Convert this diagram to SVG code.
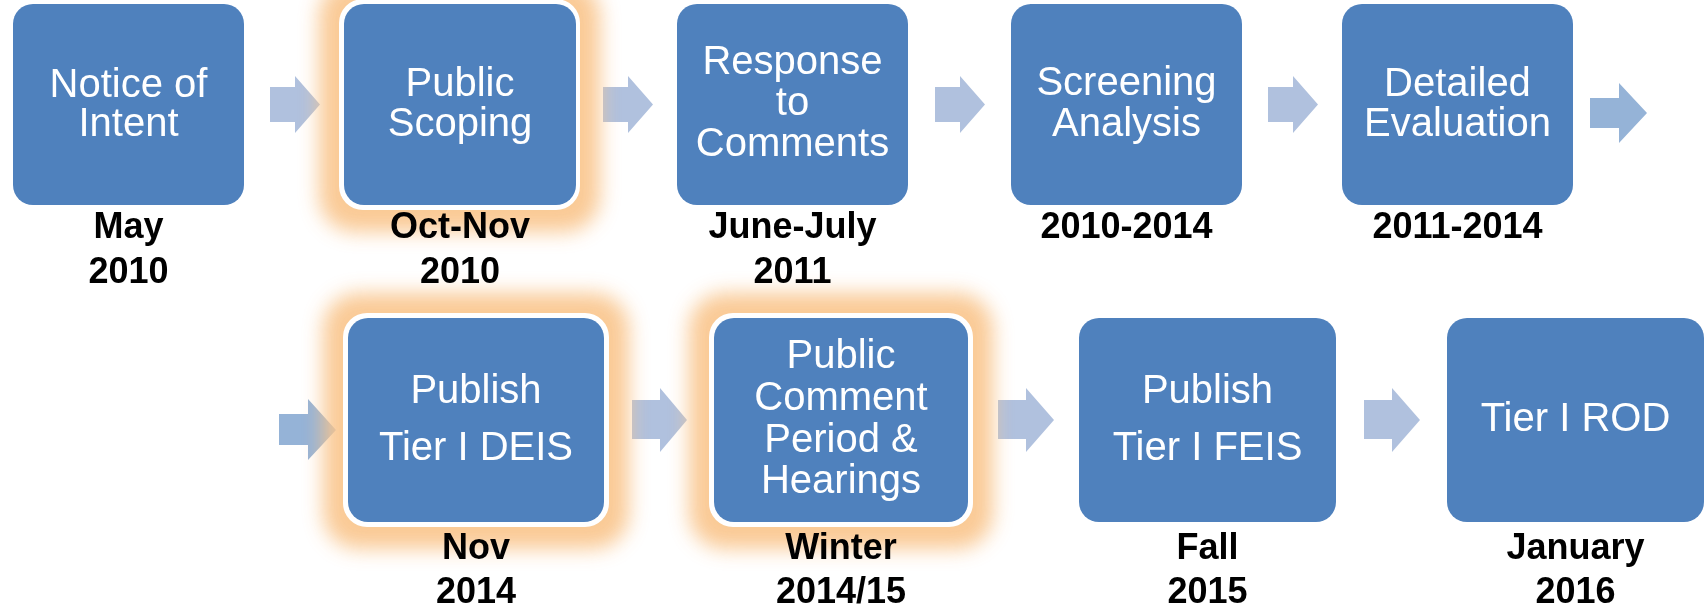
<svg xmlns="http://www.w3.org/2000/svg" width="1707" height="608" viewBox="0 0 1707 608">
<style>
.box{fill:#4f81bd;}
.rim{fill:#ffffff;}
.glow{fill:#f9c48a;filter:url(#blur);}
.t{font-family:"Liberation Sans",Arial,sans-serif;font-size:40px;fill:#ffffff;text-anchor:middle;}
.d{font-family:"Liberation Sans",Arial,sans-serif;font-size:36px;font-weight:bold;fill:#000000;text-anchor:middle;}
.al{fill:#b0c1de;}
.ad{fill:#95b3d7;}
</style>
<defs>
<filter id="blur" x="-30%" y="-30%" width="160%" height="160%">
<feGaussianBlur stdDeviation="10"/>
</filter>
</defs>
<rect width="1707" height="608" fill="#ffffff"/>
<g id="connectors">
<polygon class="al" points="270,87 295,87 295,76 320,104.5 295,133 295,122 270,122"/>
<polygon class="al" points="603,87 628,87 628,76 653,104.5 628,133 628,122 603,122"/>
<polygon class="al" points="935,87 960,87 960,76 985,104.5 960,133 960,122 935,122"/>
<polygon class="al" points="1268,87 1293,87 1293,76 1318,104.5 1293,133 1293,122 1268,122"/>
<polygon class="ad" points="1590,98 1619,98 1619,83 1647,113 1619,143 1619,128 1590,128"/>
<polygon class="ad" points="279,414 308,414 308,399 336,430 308,460 308,445 279,445"/>
<polygon class="al" points="632,400 660,400 660,388 687,420 660,452 660,439 632,439"/>
<polygon class="al" points="998,400 1026,400 1026,388 1054,420 1026,452 1026,439 998,439"/>
<polygon class="al" points="1364,400 1392,400 1392,388 1420,420 1392,452 1392,439 1364,439"/>
</g>
<g id="glows" opacity="0.9">
<rect class="glow" x="319" y="-20" width="281" height="252" rx="36"/>
<rect class="glow" x="323" y="293" width="306" height="256" rx="36"/>
<rect class="glow" x="689" y="293" width="304" height="256" rx="36"/>
</g>
<g id="n1">
<rect class="box" x="13" y="4" width="231" height="201" rx="20"/>
<text class="t" x="128.5" y="97">Notice of</text>
<text class="t" x="128.5" y="136">Intent</text>
<text class="d" x="128.5" y="238">May</text>
<text class="d" x="128.5" y="283">2010</text>
</g>
<g id="n2">
<rect class="rim" x="339" y="-1" width="241" height="211" rx="24"/>
<rect class="box" x="344" y="4" width="232" height="201" rx="20"/>
<text class="t" x="460" y="96">Public</text>
<text class="t" x="460" y="136">Scoping</text>
<text class="d" x="460" y="238">Oct-Nov</text>
<text class="d" x="460" y="283">2010</text>
</g>
<g id="n3">
<rect class="box" x="677" y="4" width="231" height="201" rx="20"/>
<text class="t" x="792.5" y="74">Response</text>
<text class="t" x="792.5" y="115">to</text>
<text class="t" x="792.5" y="156">Comments</text>
<text class="d" x="792.5" y="238">June-July</text>
<text class="d" x="792.5" y="283">2011</text>
</g>
<g id="n4">
<rect class="box" x="1011" y="4" width="231" height="201" rx="20"/>
<text class="t" x="1126.5" y="95">Screening</text>
<text class="t" x="1126.5" y="136">Analysis</text>
<text class="d" x="1126.5" y="238">2010-2014</text>
</g>
<g id="n5">
<rect class="box" x="1342" y="4" width="231" height="201" rx="20"/>
<text class="t" x="1457.5" y="96">Detailed</text>
<text class="t" x="1457.5" y="136">Evaluation</text>
<text class="d" x="1457.5" y="238">2011-2014</text>
</g>
<g id="n6">
<rect class="rim" x="343" y="313" width="266" height="214" rx="24"/>
<rect class="box" x="348" y="318" width="256" height="204" rx="20"/>
<text class="t" x="476" y="403">Publish</text>
<text class="t" x="476" y="460">Tier I DEIS</text>
<text class="d" x="476" y="559">Nov</text>
<text class="d" x="476" y="603">2014</text>
</g>
<g id="n7">
<rect class="rim" x="709" y="313" width="264" height="214" rx="24"/>
<rect class="box" x="714" y="318" width="254" height="204" rx="20"/>
<text class="t" x="841" y="368">Public</text>
<text class="t" x="841" y="410">Comment</text>
<text class="t" x="841" y="452">Period &amp;</text>
<text class="t" x="841" y="493">Hearings</text>
<text class="d" x="841" y="559">Winter</text>
<text class="d" x="841" y="603">2014/15</text>
</g>
<g id="n8">
<rect class="box" x="1079" y="318" width="257" height="204" rx="20"/>
<text class="t" x="1207.5" y="403">Publish</text>
<text class="t" x="1207.5" y="460">Tier I FEIS</text>
<text class="d" x="1207.5" y="559">Fall</text>
<text class="d" x="1207.5" y="603">2015</text>
</g>
<g id="n9">
<rect class="box" x="1447" y="318" width="257" height="204" rx="20"/>
<text class="t" x="1575.5" y="431">Tier I ROD</text>
<text class="d" x="1575.5" y="559">January</text>
<text class="d" x="1575.5" y="603">2016</text>
</g>
</svg>
